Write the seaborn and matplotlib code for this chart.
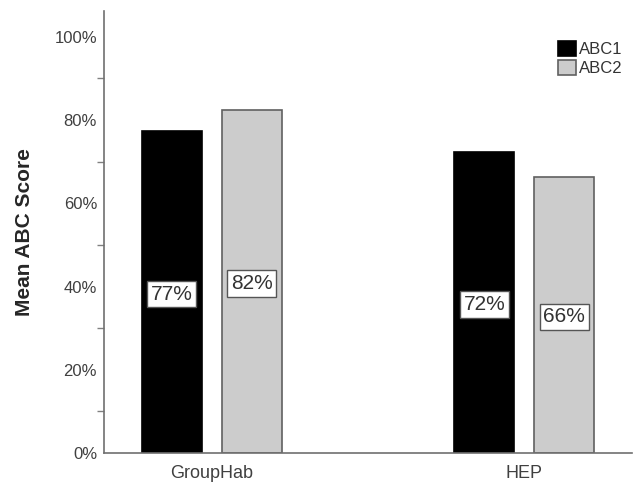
import pandas as pd
import numpy as np
from matplotlib import pyplot as plt
from matplotlib.patches import Patch
from matplotlib.ticker import MultipleLocator, PercentFormatter
import seaborn as sns

# Values
groups = ['GroupHab', 'HEP']
tests = ['ABC1', 'ABC2']
abc1 = [0.774, 0.724]
abc2 = [0.824, 0.664]
colors = ['#000000', '#cccccc']
edges = ['#000000', '#606060']

df = pd.DataFrame({
    'group': groups * 2,
    'test': [tests[0]] * 2 + [tests[1]] * 2,
    'score': abc1 + abc2,
})

sns.set_style('white')
plt.rcParams['font.family'] = ['Liberation Sans', 'DejaVu Sans']

fig = plt.figure(figsize=(6.34, 4.82), dpi=100)
ax = fig.add_axes([104/634, 1-453/482, 528/634, 442/482])

sns.barplot(data=df, x='group', y='score', hue='test', palette=colors,
            width=0.511, gap=0.25, legend=False, ax=ax)

for cont, ec in zip(ax.containers, edges):
    for bar in cont:
        bar.set_edgecolor(ec)
        bar.set_linewidth(1.2)
        h = bar.get_height()
        ax.text(bar.get_x() + bar.get_width()/2, h/2 - 0.005, f"{h:.0%}",
                ha='center', va='center', fontsize=15, color='#333333',
                bbox=dict(boxstyle='square,pad=0.18', fc='white', ec='#555555', lw=1))

ax.set_xlim(-0.344, 1.344)
ax.set_ylim(0, 1.062)
ax.yaxis.set_major_locator(MultipleLocator(0.2))
ax.yaxis.set_major_formatter(PercentFormatter(1.0, decimals=0))
# minor ticks only between the labelled ones
ax.yaxis.set_minor_locator(plt.FixedLocator([0.1, 0.3, 0.5, 0.7, 0.9]))
ax.tick_params(axis='y', which='major', length=0, pad=5, labelsize=12, labelcolor='#404040')
ax.tick_params(axis='y', which='minor', length=5, width=1, color='#808080', left=True)
ax.tick_params(axis='x', length=0, pad=9, labelsize=13, labelcolor='#404040')

for side in ['top', 'right']:
    ax.spines[side].set_visible(False)
for side in ['left', 'bottom']:
    ax.spines[side].set_color('#707070')
    ax.spines[side].set_linewidth(1.2)

ax.set_xlabel('')
ax.set_ylabel('Mean ABC Score', fontsize=15, fontweight='bold', labelpad=15)

handles = [Patch(facecolor=c, edgecolor=e, lw=1.2) for c, e in zip(colors, edges)]
ax.legend(handles, tests, loc='upper left', bbox_to_anchor=(558/634, 1-41/482),
          bbox_transform=fig.transFigure, frameon=False, fontsize=12,
          handlelength=1.05, handleheight=1.05, handletextpad=0.2,
          labelspacing=0.15, borderpad=0, borderaxespad=0, labelcolor='#333333')

plt.savefig('out.png', dpi=100)
